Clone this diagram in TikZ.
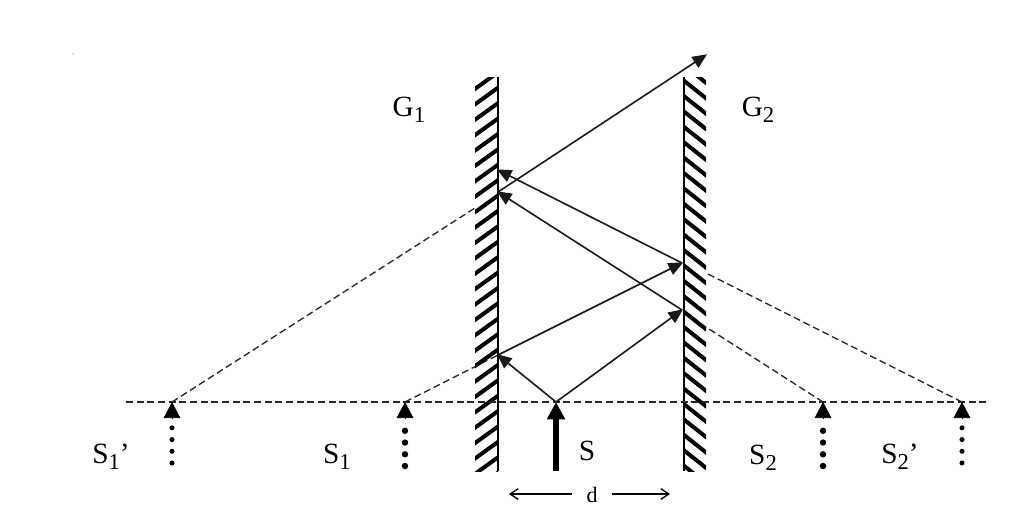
\documentclass[tikz,border=0pt]{standalone}
\usepackage{fontspec}
\setmainfont{Liberation Serif}
\usetikzlibrary{arrows.meta,calc}
\tikzset{
  ray/.style={draw=black!90, line width=1.2pt, -{Triangle[length=11pt,width=9.5pt]}, shorten >=-1pt},
  virtual/.style={draw=black!85, line width=1pt, dash pattern=on 5.2pt off 2.8pt},
  source/.style={line width=4.4pt, -{Triangle[length=13pt,width=13pt]}},
  image/.style={dash pattern=on 0pt off 8.8pt, line cap=round},
  imagetip/.style={-{Triangle[length=12pt,width=12.5pt]}, line width=0.5pt},
  lab/.style={inner sep=0pt, font=\fontsize{22}{24}\selectfont},
}
\newcommand{\subs}[1]{\raisebox{-0.22em}{\fontsize{17}{18}\selectfont #1}}
\begin{document}
\begin{tikzpicture}[x=0.75pt,y=-0.75pt]
  \useasboundingbox (0,0) rectangle (1024,515);
  \fill[black!60] (73,54) circle (0.5pt);
  % mirror G1
  \begin{scope}
    \clip (475,77) rectangle (498,471);
    \foreach \k in {-1,...,26} {
      \draw[line width=3pt] (474,87+15.4*\k+18) -- (499,87+15.4*\k);
    }
  \end{scope}
  \draw[line width=1.8pt] (498,77) -- (498,471);
  % mirror G2
  \begin{scope}
    \clip (684,77) rectangle (706,471);
    \foreach \k in {-1,...,26} {
      \draw[line width=3pt] (683,80+15.4*\k) -- (707,80+15.4*\k+19);
    }
  \end{scope}
  \draw[line width=1.8pt] (684,77) -- (684,471);
  % points
  \coordinate (S) at (556,402);
  \coordinate (Sone) at (405,402);
  \coordinate (Sonep) at (172,402);
  \coordinate (Stwo) at (823,402);
  \coordinate (Stwop) at (962,402);
  \coordinate (A) at (498,355);
  \coordinate (B) at (682,310);
  \coordinate (C) at (682,263);
  \coordinate (D) at (498,192);
  \coordinate (E) at (498,170);
  \coordinate (F) at (706,55);
  \coordinate (axisl) at (126,402);
  \coordinate (axisr) at (988,402);
  \coordinate (Sb) at (556,471);
  \coordinate (Soneb) at (405,466);
  \coordinate (Sonepb) at (172,463);
  \coordinate (Stwob) at (823,466);
  \coordinate (Stwopb) at (962,463);
  % horizontal line and virtual rays
  \draw[virtual] (axisl) -- (axisr);
  \draw[virtual] (Sonep) -- (475,208);
  \draw[virtual] (Sone) -- (A);
  \draw[virtual] (Stwo) -- (706,327);
  \draw[virtual] (Stwop) -- (706,273);
  % rays
  \draw[ray] (S) -- (A);
  \draw[ray] (S) -- (B);
  \draw[ray] (A) -- (C);
  \draw[ray] (B) -- (D);
  \draw[ray] (C) -- (E);
  \draw[ray] (D) -- (F);
  % sources
  \draw[source] (Sb) -- (S);
  \foreach \p/\q in {Sone/Soneb,Stwo/Stwob} {
    \draw[image,line width=4.8pt] (\q) -- ($(\p)+(0,18)$);
    \draw[imagetip] ($(\p)+(0,17)$) -- (\p);
  }
  \foreach \p/\q in {Sonep/Sonepb,Stwop/Stwopb} {
    \draw[image,line width=3.8pt] (\q) -- ($(\p)+(0,20)$);
    \draw[imagetip] ($(\p)+(0,17)$) -- (\p);
  }
  % d
  \node[inner sep=0pt, font=\fontsize{16.5}{17}\selectfont] (d) at (592,495) {d};
  \coordinate (dl) at (509,494);
  \coordinate (dr) at (670,494);
  \draw[-{Straight Barb[length=6pt,width=8pt]}, line width=1pt] (d.west) ++(-14,-1) -- (dl);
  \draw[-{Straight Barb[length=6pt,width=8pt]}, line width=1pt] (d.east) ++(14,-1) -- (dr);
  % labels
  \node[lab] (Gone) at (409,110) {G\subs{1}};
  \node[lab] (Gtwo) at (758,110) {G\subs{2}};
  \node[lab] (lSonep) at (111,457) {S\subs{1}’};
  \node[lab] (lSone) at (337,457) {S\subs{1}};
  \node[lab] (lS) at (587,451) {S};
  \node[lab] (lStwo) at (763,458) {S\subs{2}};
  \node[lab] (lStwop) at (900,457) {S\subs{2}’};
\end{tikzpicture}
\end{document}
